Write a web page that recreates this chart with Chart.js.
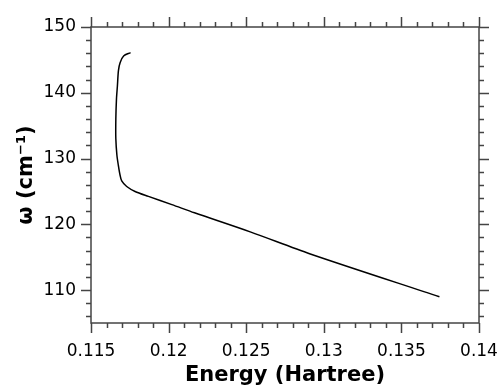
<!DOCTYPE html>
<html>
<head>
<meta charset="utf-8">
<script src="https://cdn.jsdelivr.net/npm/chart.js@4.4.0/dist/chart.umd.min.js"></script>
<style>
    html, body { margin: 0; padding: 0; background: #fff; overflow: hidden; }
    #wrap { width: 501px; height: 389px; position: relative; }
</style>
</head>
<body>
<div id="wrap"><canvas id="chart"></canvas></div>
<script>
// energy (Hartree) vs omega (cm^-1) from top to bottom
const energy = [0.11755, 0.11710, 0.11688, 0.11677, 0.11670, 0.11664, 0.11660, 0.11660, 0.11667, 0.11676,
    0.11687, 0.11698, 0.11730, 0.11784, 0.11870, 0.12021, 0.12167, 0.12526, 0.12913, 0.13745];
const omega = [146.1, 145.6, 144.6, 143.4, 141.0, 139.0, 136.0, 133.0, 130.5, 129.0,
    127.5, 126.6, 125.75, 125.0, 124.25, 123.0, 121.75, 118.85, 115.5, 109.0];

const xTicks = [0.115, 0.12, 0.125, 0.13, 0.135, 0.14];
const yTicks = [110, 120, 130, 140, 150];
const xMinorStep = 0.001;
const yMinorStep = 2;

const frameColor = '#444';

// draws the box round the plot and the outward ticks on all four sides
const frameTicks = {
    id: 'frameTicks',
    afterDraw(chart) {
        const ctx = chart.ctx;
        const {left, right, top, bottom} = chart.chartArea;
        const xs = chart.scales.x;
        const ys = chart.scales.y;

        ctx.save();
        ctx.strokeStyle = frameColor;
        ctx.lineWidth = 1.5;
        ctx.strokeRect(left, top, right - left, bottom - top);

        ctx.beginPath();
        for (let i = 0; i <= 25; i++) {
            let v = xs.min + i * xMinorStep;
            let px = Math.round(xs.getPixelForValue(v)) + 0.5;
            let len = i % 5 === 0 ? 10 : 5;
            ctx.moveTo(px, bottom);
            ctx.lineTo(px, bottom + len);
            ctx.moveTo(px, top);
            ctx.lineTo(px, top - len);
        }
        for (let v = 106; v <= 150; v += yMinorStep) {
            let py = Math.round(ys.getPixelForValue(v)) + 0.5;
            let len = v % 10 === 0 ? 10 : 5;
            ctx.moveTo(left, py);
            ctx.lineTo(left - len, py);
            ctx.moveTo(right, py);
            ctx.lineTo(right + len, py);
        }
        ctx.stroke();
        ctx.restore();
    }
};

new Chart('chart', {
    type: 'scatter',
    data: {
        datasets: [{
            data: energy.map((e, i) => ({x: e, y: omega[i]})),
            showLine: true,
            borderColor: '#000',
            borderWidth: 1.5,
            pointRadius: 0,
            tension: 0.3
        }]
    },
    options: {
        responsive: true,
        maintainAspectRatio: false,
        animation: false,
        layout: {
            padding: {left: 0, right: 22, top: 27, bottom: 0}
        },
        plugins: {
            legend: {display: false},
            tooltip: {enabled: false}
        },
        scales: {
            x: {
                type: 'linear',
                min: 0.115,
                max: 0.14,
                afterBuildTicks: s => { s.ticks = xTicks.map(v => ({value: v})); },
                afterFit: s => {
                    s.height = 66;
                    s.paddingLeft = 0;
                    s.paddingRight = 0;
                },
                grid: {display: false, drawTicks: false},
                border: {display: false},
                ticks: {
                    color: '#000',
                    padding: 18,
                    maxRotation: 0,
                    font: {family: 'DejaVu Sans', size: 17},
                    callback: v => String(+v.toFixed(3))
                },
                title: {
                    display: true,
                    text: 'Energy (Hartree)',
                    color: '#000',
                    padding: {top: 0, bottom: 1},
                    font: {family: 'DejaVu Sans', size: 21, weight: 'bold'}
                }
            },
            y: {
                type: 'linear',
                min: 105,
                max: 150,
                afterBuildTicks: s => { s.ticks = yTicks.map(v => ({value: v})); },
                afterFit: s => {
                    s.width = 91;
                    s.paddingTop = 0;
                    s.paddingBottom = 0;
                },
                grid: {display: false, drawTicks: false},
                border: {display: false},
                ticks: {
                    color: '#000',
                    padding: 15,
                    font: {family: 'DejaVu Sans', size: 17}
                },
                title: {
                    display: true,
                    text: 'ω (cm⁻¹)',
                    color: '#000',
                    padding: {top: 14, bottom: 0},
                    font: {family: 'DejaVu Sans', size: 21, weight: 'bold'}
                }
            }
        }
    },
    plugins: [frameTicks]
});
</script>
</body>
</html>
